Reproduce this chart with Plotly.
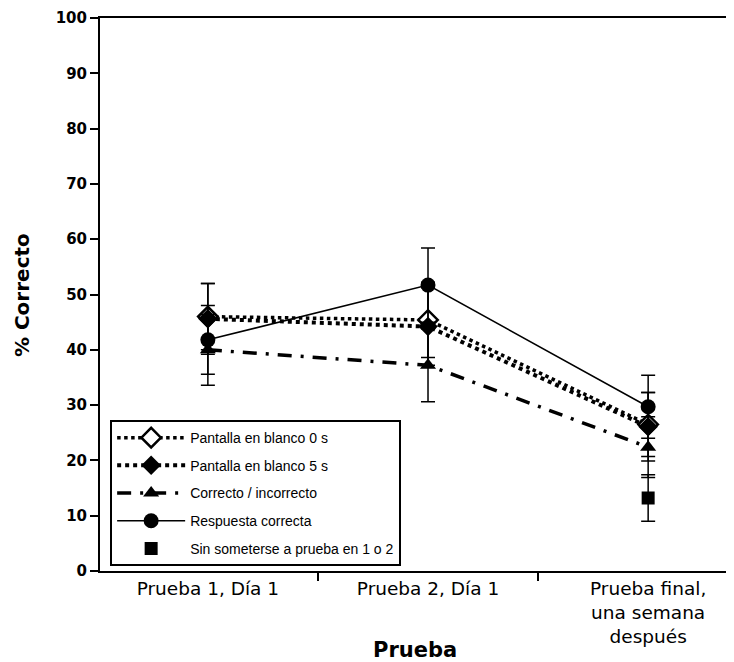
import plotly.graph_objects as go

categories = ["Prueba 1, Día 1", "Prueba 2, Día 1", "Prueba final,<br>una semana<br>después"]

blank0_vals = [46.0, 45.4, 26.5]
blank0_err = [6.0, 6.8, 5.8]

blank5_vals = [45.6, 44.2, 26.1]
blank5_err = [6.4, 7.0, 6.2]

corr_inc_vals = [40.0, 37.2, 22.4]
corr_inc_err = [6.4, 6.6, 5.5]

resp_corr_vals = [41.8, 51.7, 29.7]
resp_corr_err = [6.2, 6.7, 5.7]

sin_prueba_vals = [None, None, 13.2]
sin_prueba_err = [0, 0, 4.2]

y_ticks = [0, 10, 20, 30, 40, 50, 60, 70, 80, 90, 100]

SANS = "Liberation Sans, Arial, sans-serif"
DEJA = "DejaVu Sans, sans-serif"


def err(arr):
    return dict(type="data", array=arr, visible=True, color="black",
                thickness=1.5, width=7)


fig = go.Figure()

fig.add_trace(go.Scatter(
    x=categories, y=blank0_vals, name="Pantalla en blanco 0 s",
    mode="lines+markers", legendgroup="a",
    line=dict(color="black", width=3.5, dash="dot"),
    marker=dict(symbol="diamond", size=15, color="white",
                line=dict(color="black", width=2.5)),
    error_y=err(blank0_err),
))
fig.add_trace(go.Scatter(
    x=categories, y=blank5_vals, name="Pantalla en blanco 5 s",
    mode="lines+markers", legendgroup="b",
    line=dict(color="black", width=4, dash="dot"),
    marker=dict(symbol="diamond", size=15, color="black"),
    error_y=err(blank5_err),
))
fig.add_trace(go.Scatter(
    x=categories, y=corr_inc_vals, name="Correcto / incorrecto",
    mode="lines+markers", legendgroup="c",
    line=dict(color="black", width=3.5, dash="14px,9px,3px,9px"),
    marker=dict(symbol="triangle-up", size=14, color="black"),
    error_y=err(corr_inc_err),
))
fig.add_trace(go.Scatter(
    x=categories, y=resp_corr_vals, name="Respuesta correcta",
    mode="lines+markers", legendgroup="d",
    line=dict(color="black", width=1.5),
    marker=dict(symbol="circle", size=15, color="black"),
    error_y=err(resp_corr_err),
))
fig.add_trace(go.Scatter(
    x=categories, y=sin_prueba_vals, name="Sin someterse a prueba en 1 o 2",
    mode="markers", legendgroup="e",
    marker=dict(symbol="square", size=13, color="black"),
    error_y=err(sin_prueba_err),
))

fig.update_layout(
    width=726, height=654,
    margin=dict(l=92, r=0, t=10, b=91),
    paper_bgcolor="white", plot_bgcolor="white",
    font=dict(family=SANS, color="black"),
    showlegend=True,
    legend=dict(
        x=0.016, y=0.273, xanchor="left", yanchor="top",
        bgcolor="white", bordercolor="black", borderwidth=2,
        font=dict(size=14, family=SANS, color="black"),
        tracegroupgap=6.5, itemwidth=68,
    ),
    xaxis=dict(
        type="category", range=[-0.49, 2.39],
        showline=True, linecolor="black", linewidth=2, mirror=True,
        ticks="outside", tickson="boundaries", ticklen=8, tickwidth=1.5,
        tickcolor="black", showgrid=False, zeroline=False,
        tickfont=dict(size=18.5, family=DEJA, color="black"),
    ),
    yaxis=dict(
        range=[0, 100], tickvals=y_ticks,
        ticktext=[f"<b>{v}</b>" for v in y_ticks],
        showline=True, linecolor="black", linewidth=2,
        ticks="outside", ticklen=8, tickwidth=2, tickcolor="black",
        showgrid=False, zeroline=False,
        tickfont=dict(size=15, family=DEJA, color="black"),
    ),
    annotations=[
        dict(text="<b>Prueba</b>", xref="paper", yref="paper",
             x=0.497, y=-0.143, xanchor="center", yanchor="middle",
             showarrow=False, font=dict(size=21, family=DEJA, color="black")),
        dict(text="<b>% Correcto</b>", xref="paper", yref="paper",
             x=-0.123, y=0.499, xanchor="center", yanchor="middle",
             textangle=-90, showarrow=False,
             font=dict(size=20, family=DEJA, color="black")),
    ],
)

fig.write_html("out.html")
